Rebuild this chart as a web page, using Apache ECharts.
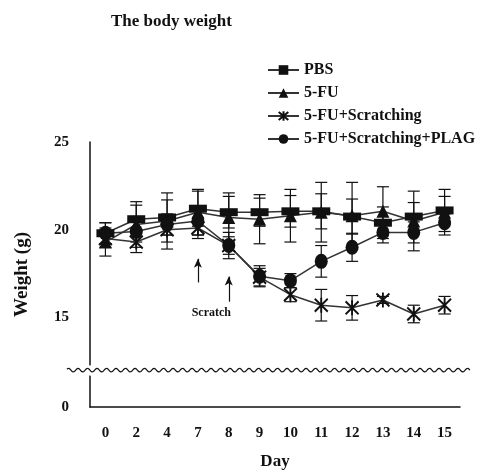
<!DOCTYPE html>
<html>
<head>
<meta charset="utf-8">
<script src="https://cdn.jsdelivr.net/npm/echarts@6/dist/echarts.min.js"></script>
<style>html,body{margin:0;padding:0;background:#fff}#c{width:480px;height:475px}</style>
</head>
<body>
<div id="c"></div>
<script>
var days = ['0','2','4','7','8','9','10','11','12','13','14','15'];
var yTicks = [0, 15, 20, 25];
var seriesNames = ['PBS', '5-FU', '5-FU+Scratching', '5-FU+Scratching+PLAG'];
var pbs      = [19.8, 20.6, 20.7, 21.2, 21.0, 21.0, 21.05, 21.05, 20.75, 20.4, 20.75, 21.1];
var pbsErr   = [0.6, 0.8, 1.0, 1.0, 0.9, 0.8, 0.9, 1.0, 1.0, 0.9, 0.8, 0.8];
var fu       = [19.3, 20.3, 20.5, 21.0, 20.7, 20.6, 20.8, 21.0, 20.8, 21.05, 20.5, 21.0];
var fuErr    = [0.8, 1.3, 1.6, 1.3, 1.4, 1.4, 1.5, 1.7, 1.9, 1.4, 1.7, 1.3];
var scr      = [19.5, 19.3, 20.0, 20.1, 19.1, 17.3, 16.3, 15.7, 15.55, 16.0, 15.2, 15.7];
var scrErr   = [0.5, 0.6, 0.7, 0.6, 0.5, 0.5, 0.4, 0.9, 0.7, 0.2, 0.5, 0.5];
var plag     = [19.8, 19.9, 20.3, 20.5, 19.1, 17.35, 17.1, 18.2, 19.0, 19.85, 19.85, 20.4];
var plagErr  = [0.6, 0.6, 0.6, 0.8, 0.75, 0.6, 0.4, 0.9, 0.8, 0.6, 0.6, 0.5];
var arrows = [['7', 17.0, 18.35], ['8', 15.9, 17.33]];
var annotation = 'Scratch';
var axisBreak = { start: 1.8, end: 12.3, gap: 0.6 };

var FONT = '"Liberation Serif", "Times New Roman", serif';
var INK = '#111';

function errSeries(vals, errs) {
  return {
    type: 'custom',
    silent: true,
    z: 1,
    data: vals.map(function (v, i) { return [i, v, errs[i]]; }),
    renderItem: function (params, api) {
      var i = api.value(0), v = api.value(1), e = api.value(2);
      var top = api.coord([i, v + e]);
      var bot = api.coord([i, v - e]);
      var hw = 6;
      var st = { stroke: INK, lineWidth: 1.2 };
      return {
        type: 'group',
        children: [
          { type: 'line', shape: { x1: top[0], y1: top[1], x2: bot[0], y2: bot[1] }, style: st },
          { type: 'line', shape: { x1: top[0] - hw, y1: top[1], x2: top[0] + hw, y2: top[1] }, style: st },
          { type: 'line', shape: { x1: bot[0] - hw, y1: bot[1], x2: bot[0] + hw, y2: bot[1] }, style: st }
        ]
      };
    }
  };
}

function lineSeries(name, vals, symbol, size, extra) {
  var s = {
    name: name,
    type: 'line',
    data: vals,
    symbol: symbol,
    symbolSize: size,
    showAllSymbol: true,
    z: 3,
    lineStyle: { color: '#333', width: 1.5 },
    itemStyle: { color: INK, borderColor: INK, borderWidth: 0, opacity: 1 },
    emphasis: { disabled: true }
  };
  if (extra) { for (var k in extra) s[k] = extra[k]; }
  return s;
}

var asterisk = 'path://M6,0L6,14M0,1L12,13M0,13L12,1';

var chart = echarts.init(document.getElementById('c'), null, { renderer: 'canvas' });
chart.setOption({
  animation: false,
  backgroundColor: '#fff',
  title: {
    text: 'The body weight',
    left: 106, top: 8,
    textStyle: { fontFamily: FONT, fontWeight: 'bold', fontSize: 17, color: INK }
  },
  legend: {
    orient: 'vertical',
    left: 262, top: 57,
    itemWidth: 31, itemHeight: 12, itemGap: 7,
    data: seriesNames,
    textStyle: { fontFamily: FONT, fontWeight: 'bold', fontSize: 16, color: INK }
  },
  grid: { left: 90, right: 20, top: 142, bottom: 67, containLabel: false },
  xAxis: {
    type: 'category',
    data: days,
    boundaryGap: true,
    name: 'Day',
    nameLocation: 'middle',
    nameGap: 46,
    nameTextStyle: { fontFamily: FONT, fontWeight: 'bold', fontSize: 17, color: INK },
    axisLine: { lineStyle: { color: INK, width: 1.5 } },
    axisTick: { inside: true, length: 4, lineStyle: { color: INK, width: 1.3 } },
    axisLabel: { margin: 19, fontFamily: FONT, fontWeight: 'bold', fontSize: 15, color: INK },
    splitLine: { show: false }
  },
  yAxis: {
    type: 'value',
    min: 0, max: 25, interval: 5,
    name: 'Weight (g)',
    nameLocation: 'middle',
    nameGap: 58,
    nameTextStyle: { fontFamily: FONT, fontWeight: 'bold', fontSize: 19, color: INK },
    breaks: [axisBreak],
    breakArea: {
      show: true,
      itemStyle: { color: '#fff', borderColor: 'rgba(0,0,0,0)', borderWidth: 0, opacity: 1 },
      zigzagAmplitude: 0, zigzagZ: 100,
      expandOnClick: false
    },
    axisLine: { show: true, lineStyle: { color: INK, width: 1.5 } },
    axisTick: { inside: true, length: 4, lineStyle: { color: INK, width: 1.3 } },
    axisLabel: {
      margin: 21, fontFamily: FONT, fontWeight: 'bold', fontSize: 15, color: INK,
      customValues: yTicks
    },
    splitLine: { show: false }
  },
  series: [
    errSeries(pbs, pbsErr),
    errSeries(fu, fuErr),
    errSeries(scr, scrErr),
    errSeries(plag, plagErr),
    lineSeries('PBS', pbs, 'rect', [18, 8]),
    lineSeries('5-FU', fu, 'triangle', 13),
    lineSeries('5-FU+Scratching', scr, asterisk, [13, 15], {
      itemStyle: { color: 'none', borderColor: INK, borderWidth: 2, opacity: 1 }
    }),
    lineSeries('5-FU+Scratching+PLAG', plag, 'circle', [13, 15], {
      markLine: {
        silent: true,
        symbol: ['none', 'arrow'],
        symbolSize: [6, 9],
        label: { show: false },
        lineStyle: { color: INK, width: 1.2, type: 'solid' },
        data: arrows.map(function (a) {
          return [{ coord: [a[0], a[1]] }, { coord: [a[0], a[2]] }];
        })
      }
    })
  ]
});

// decorative wavy break line, placed from the axis scale
var yLo = chart.convertToPixel({ yAxisIndex: 0 }, axisBreak.start);
var yHi = chart.convertToPixel({ yAxisIndex: 0 }, axisBreak.end);
var yMid = (yLo + yHi) / 2;
var gridLeft = chart.convertToPixel({ xAxisIndex: 0 }, days[0]) - 15.5;
var pts = [];
for (var x = gridLeft - 23; x <= 470; x += 1) {
  pts.push([x, yMid + 1.8 * Math.sin((x - gridLeft) / 9.5 * 2 * Math.PI)]);
}
// "Scratch" label placed between the two arrow positions
var ax0 = chart.convertToPixel({ xAxisIndex: 0 }, arrows[0][0]);
var ax1 = chart.convertToPixel({ xAxisIndex: 0 }, arrows[1][0]);
var labY = chart.convertToPixel({ yAxisIndex: 0 }, arrows[1][1]) + 11;
chart.setOption({
  graphic: [
    { type: 'polyline', z: 200, silent: true, shape: { points: pts },
      style: { stroke: INK, lineWidth: 1.2, fill: null } },
    { type: 'text', z: 200, silent: true, x: (ax0 + ax1) / 2 - 2, y: labY,
      style: { text: annotation, font: 'bold 12px ' + FONT, fill: INK,
               align: 'center', verticalAlign: 'middle' } }
  ]
});
</script>
</body>
</html>
